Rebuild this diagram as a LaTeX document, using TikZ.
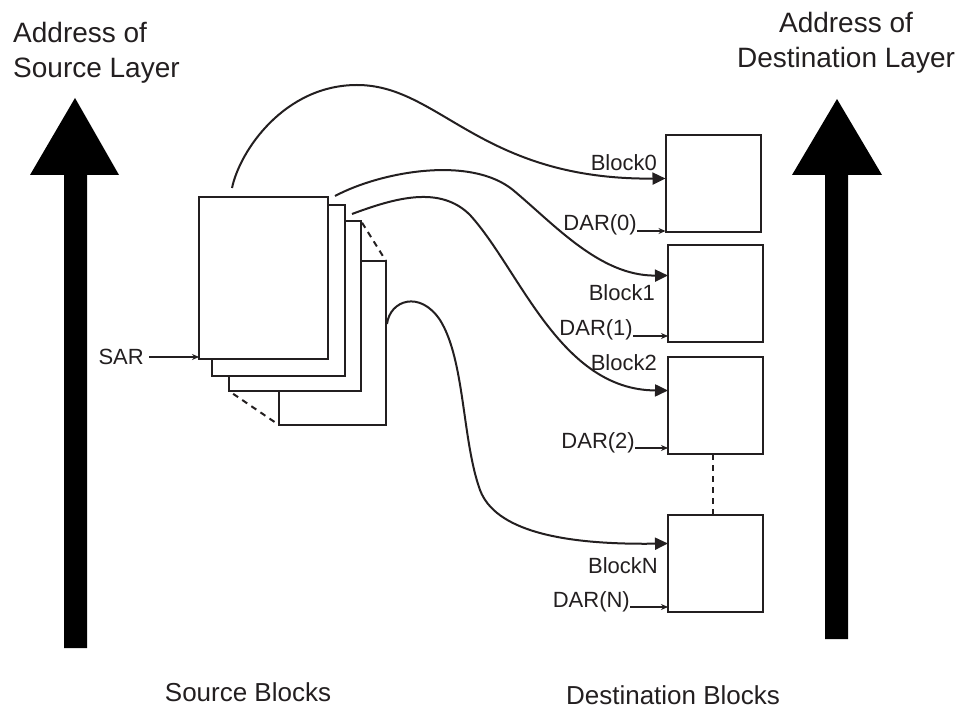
\documentclass[tikz,border=0pt]{standalone}
\usepackage{fontspec}
\setmainfont{Liberation Sans}
\definecolor{ink}{RGB}{35,31,32}
\usepackage{tikz}
\usetikzlibrary{arrows.meta, positioning, calc}

\begin{document}
\begin{tikzpicture}[
  x=1pt, y=-1pt,
  page/.style={draw=ink, line width=2pt, fill=white, inner sep=0pt, outer sep=0pt},
  blk/.style={draw=ink, line width=2pt, fill=white, minimum width=95pt,
              minimum height=97pt, inner sep=0pt, outer sep=0pt},
  lbl/.style={text=ink, inner sep=0pt, font=\fontsize{22}{26}\selectfont},
  ttl/.style={text=ink, inner sep=0pt, font=\fontsize{28}{35}\selectfont},
  flow/.style={draw=ink, line width=2pt, -{Triangle[length=13pt, width=12pt]}},
  tip/.style={draw=ink, line width=1.2pt, -{Stealth[length=7pt, width=6pt]}},
  dots/.style={draw=ink, line width=2pt, dash pattern=on 6pt off 5pt}
]
\useasboundingbox (0,0) rectangle (961,708);

% address axes
\fill[black] (64,648) -- (64,175) -- (30,175) -- (75,98) -- (119,175) -- (87,175) -- (87,648) -- cycle;
\fill[black] (825,639) -- (825,175) -- (792,175) -- (837,99) -- (882,175) -- (848,175) -- (848,639) -- cycle;
\node[ttl, anchor=north west, align=left] (srcaddr) at (13,22) {Address of\\Source Layer};
\node[ttl, anchor=north, align=center] (dstaddr) at (846,12) {Address of\\Destination Layer};

% source blocks (stacked pages)
\node[page, minimum width=107pt, minimum height=164pt] (pg3) at (332.5,343) {};
\node[page, minimum width=132pt, minimum height=170pt] (pg2) at (295,306) {};
\node[page, minimum width=133pt, minimum height=171pt] (pg1) at (278.5,290.5) {};
\node[page, minimum width=129pt, minimum height=162pt] (pg0) at (263.5,278) {};
\draw[dots, shorten <=2pt] (pg2.north east) -- (pg3.north east);
\draw[dots, shorten <=5pt, shorten >=4pt] (pg2.south west) -- (pg3.south west);

\node[lbl, anchor=east] (sar) at (144,357) {SAR};
\draw[tip] ([xshift=5pt]sar.east) -- (sar.east -| pg0.west);

% destination blocks
\node[blk] (blk0) at (713,183.5) {};
\node[blk] (blk1) at (715.5,293.5) {};
\node[blk] (blk2) at (715.5,405.5) {};
\node[blk] (blkN) at (715.5,563.5) {};
\draw[dots] ([xshift=-3pt]blk2.south) -- ([xshift=-3pt]blkN.north);

\node[lbl, anchor=base east] (lb0) at (657,171) {Block0};
\node[lbl, anchor=base east] (lb1) at (655,301) {Block1};
\node[lbl, anchor=base east] (lb2) at (657,371) {Block2};
\node[lbl, anchor=base east] (lbN) at (658,573) {BlockN};

\node[lbl, anchor=base east] (dar0) at (637,231) {DAR(0)};
\node[lbl, anchor=base east] (dar1) at (633,336) {DAR(1)};
\node[lbl, anchor=base east] (dar2) at (635,448) {DAR(2)};
\node[lbl, anchor=base east] (darN) at (630,607) {DAR(N)};
\draw[tip] (dar0.base east) -- (dar0.base east -| blk0.west);
\draw[tip] (dar1.base east) -- (dar1.base east -| blk1.west);
\draw[tip] (dar2.base east) -- (dar2.base east -| blk2.west);
\draw[tip] (darN.base east) -- (darN.base east -| blkN.west);

% copies
\draw[flow] ($(pg0.north west)+(33,-9)$) .. controls (240,150) and (285,85) .. (357,85)
  .. controls (440,85) and (480,180) .. ($(blk0.west)+(0,-5)$);
\draw[flow] ($(pg1.north east)+(-10,-9)$) .. controls (380,172) and (470,155) .. (513,190)
  .. controls (555,225) and (600,276) .. ($(blk1.west)+(0,-18)$);
\draw[flow] ($(pg2.north east)+(-9,-7)$) .. controls (395,198) and (440,185) .. (470,215)
  .. controls (520,270) and (560,390) .. ($(blk2.west)+(0,-15)$);
\draw[flow] ($(pg3.east)+(1,-19)$) .. controls (390,300) and (420,290) .. (440,320)
  .. controls (465,360) and (462,440) .. (480,490)
  .. controls (495,530) and (560,545) .. ($(blkN.west)+(0,-20)$);

\node[lbl, anchor=base, font=\fontsize{26}{30}\selectfont] (srcblk) at (248,701) {Source Blocks};
\node[lbl, anchor=base, font=\fontsize{26}{30}\selectfont] (dstblk) at (673,704) {Destination Blocks};
\end{tikzpicture}
\end{document}
